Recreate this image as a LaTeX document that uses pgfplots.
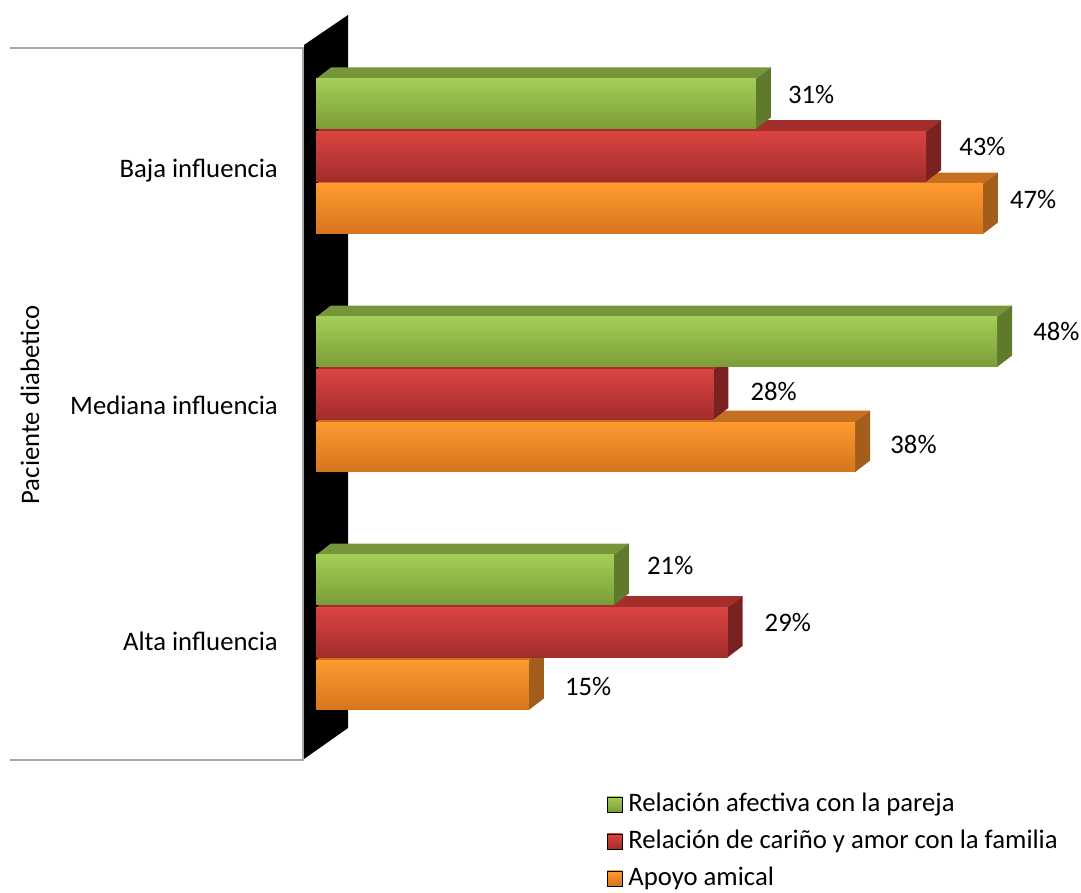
\documentclass[border=0pt]{standalone}
\usepackage{pgfplots}
\pgfplotsset{compat=1.18}
\usepackage{pgfplotstable}
\usepackage{fontspec}
\setmainfont{Carlito}
\definecolor{gF1}{HTML}{A3CE56}
\definecolor{gF2}{HTML}{7B9C38}
\definecolor{gT}{HTML}{77953A}
\definecolor{gS}{HTML}{5E7A2A}
\definecolor{rF1}{HTML}{DA4441}
\definecolor{rF2}{HTML}{A22C2B}
\definecolor{rT}{HTML}{A22F2C}
\definecolor{rS}{HTML}{7A2220}
\definecolor{oF1}{HTML}{FF9A2F}
\definecolor{oF2}{HTML}{D6741E}
\definecolor{oT}{HTML}{C6701F}
\definecolor{oS}{HTML}{A25E1A}
\definecolor{lgray}{HTML}{A6A6A6}

\newcommand\ff{\fontsize{26.7}{32}\selectfont}
\newcommand\DX{1.057}
\newcommand\DY{0.0483}
\newcommand\HW{0.105}

% depth faces (top and right side) of one 3-D bar: #1 y centre, #2 value, #3 top colour, #4 side colour
\newcommand\bardepth[4]{%
  \pgfmathsetmacro\yT{#1+\HW}%
  \pgfmathsetmacro\yB{#1-\HW}%
  \pgfmathsetmacro\yTT{#1+\HW+\DY}%
  \pgfmathsetmacro\yBB{#1-\HW+\DY}%
  \pgfmathsetmacro\xE{#2+\DX}%
  \edef\tmp{%
    \noexpand\addplot[fill=#3,draw=none,forget plot] coordinates {(0,\yT) (#2,\yT) (\xE,\yTT) (\DX,\yTT)};%
    \noexpand\addplot[fill=#4,draw=none,forget plot] coordinates {(#2,\yB) (#2,\yT) (\xE,\yTT) (\xE,\yBB)};%
  }\tmp}

% g: 2 = Baja, 1 = Mediana, 0 = Alta influencia; lx, ly: label offsets (pt)
\pgfplotstableread{
g val lx ly
2 31 32 9
1 48 36 10
0 21 33 14
}\tabG
\pgfplotstableread{
g val lx ly
2 43 33 9.5
1 28 37 3
0 29 37 10
}\tabR
\pgfplotstableread{
g val lx ly
2 47 27 9
1 38 35 2.5
0 15 36 -1.5
}\tabO

\pgfplotsset{
  frontbar/.style={xbar, bar shift=0pt, draw=none, forget plot,
    visualization depends on={\thisrow{lx}\as\lx}, visualization depends on={\thisrow{ly}\as\ly},
    point meta=x, nodes near coords={\pgfmathprintnumber{\pgfplotspointmeta}\%},
    every node near coord/.append style={anchor=west, inner sep=0pt, xshift=\lx*1pt, yshift=\ly*1pt, font=\ff, text=black}},
  onlyrow/.style={x filter/.expression={\coordindex==#1 ? x : nan}},
}

\begin{document}
\begin{tikzpicture}
\useasboundingbox (0,0) rectangle (1081pt,893pt);
\draw[color=lgray, line width=1.3pt] (10pt,845pt) -- (303pt,845pt) -- (303pt,133pt) -- (10pt,133pt);
\fill[black] (304pt,848pt) -- (348pt,878pt) -- (348pt,165pt) -- (304pt,134pt) -- cycle;
\begin{axis}[
  at={(303pt,0pt)}, anchor=south west,
  scale only axis, width=778pt, height=893pt,
  xmin=-0.9161, xmax=53.911, ymin=-1.09454, ymax=2.65756,
  clip=false,
  axis line style={draw=none},
  xtick=\empty,
  ytick={-0.0504,0.9412,1.9399},
  yticklabels={Alta influencia, Mediana influencia, Baja influencia},
  major tick length=0pt,
  tick style={draw=none},
  yticklabel style={anchor=east, inner sep=0pt, xshift=-25pt, font=\ff, text height=18pt, text depth=5pt},
  every axis y label/.style={at={(axis description cs:-0.3509,0.5465)}, rotate=90, anchor=center, font=\ff},
  ylabel={Paciente diabetico},
  /pgf/number format/assume math mode=true,
  legend image code/.code={\fill[#1] (0pt,0pt) rectangle (15pt,15pt);},
  legend cell align=left,
  legend style={at={(axis description cs:0.39075,0.11198)}, anchor=north west,
    draw=none, fill=none, inner sep=0pt, outer sep=0pt, row sep=12pt, font=\ff,
    nodes={inner sep=0pt, text height=19pt, text depth=6pt, anchor=base west},
    /tikz/every odd column/.append style={column sep=6pt}},
  bar width=0.21,
]
% ---- orange series (drawn first: it lies under the red one)
\pgfplotsinvokeforeach{0,1,2}{
  \pgfplotstablegetelem{#1}{g}\of\tabO \pgfmathsetmacro\yy{\pgfplotsretval-0.2206}
  \pgfplotstablegetelem{#1}{val}\of\tabO \let\vv\pgfplotsretval
  \bardepth{\yy}{\vv}{oT}{oS}
  \addplot[frontbar, top color=oF1, bottom color=oF2, onlyrow=#1]
    table[x=val, y expr=\thisrow{g}-0.2206] {\tabO};
}
% ---- red series
\pgfplotsinvokeforeach{0,1,2}{
  \pgfplotstablegetelem{#1}{g}\of\tabR \pgfmathsetmacro\yy{\pgfplotsretval}
  \pgfplotstablegetelem{#1}{val}\of\tabR \let\vv\pgfplotsretval
  \bardepth{\yy}{\vv}{rT}{rS}
  \addplot[frontbar, top color=rF1, bottom color=rF2, onlyrow=#1]
    table[x=val, y expr=\thisrow{g}] {\tabR};
}
% ---- green series
\pgfplotsinvokeforeach{0,1,2}{
  \pgfplotstablegetelem{#1}{g}\of\tabG \pgfmathsetmacro\yy{\pgfplotsretval+0.2206}
  \pgfplotstablegetelem{#1}{val}\of\tabG \let\vv\pgfplotsretval
  \bardepth{\yy}{\vv}{gT}{gS}
  \addplot[frontbar, top color=gF1, bottom color=gF2, onlyrow=#1]
    table[x=val, y expr=\thisrow{g}+0.2206] {\tabG};
}
% ---- legend
\addlegendimage{top color=gF1, bottom color=gF2}
\addlegendentry{Relación afectiva con la pareja}
\addlegendimage{top color=rF1, bottom color=rF2}
\addlegendentry{Relación de cariño y amor con la familia}
\addlegendimage{top color=oF1, bottom color=oF2}
\addlegendentry{Apoyo amical}
\end{axis}
\end{tikzpicture}
\end{document}
